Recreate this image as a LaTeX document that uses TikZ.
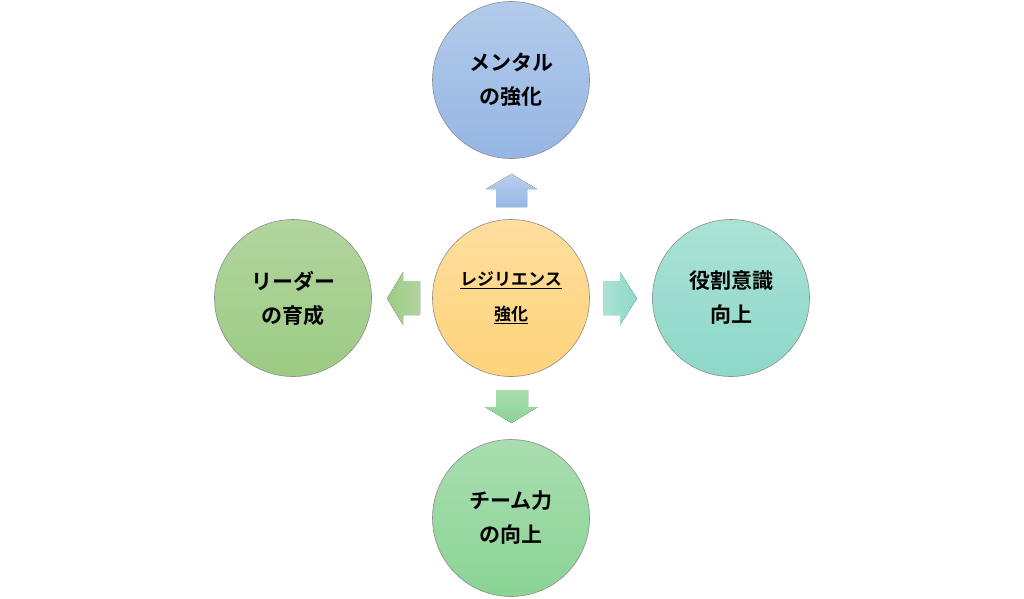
\documentclass[tikz,border=0pt]{standalone}
\usepackage{fontspec}
\newfontfamily\jp{Noto Sans CJK JP}[BoldFont={Noto Sans CJK JP Bold}]
\definecolor{bluetop}{HTML}{B3CBEB}
\definecolor{bluebot}{HTML}{95B6E3}
\definecolor{orgtop}{HTML}{FEDD9E}
\definecolor{orgbot}{HTML}{FED47A}
\definecolor{lgtop}{HTML}{B2D59E}
\definecolor{lgbot}{HTML}{9CCB84}
\definecolor{tltop}{HTML}{ABE2D6}
\definecolor{tlbot}{HTML}{8DD8C8}
\definecolor{grtop}{HTML}{AADDB0}
\definecolor{grbot}{HTML}{8AD495}
\definecolor{rim}{HTML}{8C8C8C}
\tikzset{
  bubble/.style={circle, minimum size=157pt, inner sep=0pt, draw=rim, line width=0.6pt,
    align=center, font=\jp\bfseries\fontsize{21}{34}\selectfont, text=black},
  blockarrow/.style={draw=none}
}
\begin{document}
\begin{tikzpicture}[x=1pt,y=-1pt]
\useasboundingbox (0,0) rectangle (1024,598);
% circles
\node[bubble, top color=bluetop, bottom color=bluebot] (top) at (511,80) {メンタル\\の強化};
\node[bubble, top color=orgtop, bottom color=orgbot, font=\jp\bfseries\fontsize{17}{35}\selectfont] (center) at (511,298) {\underline{レジリエンス}\\\underline{強化}};
\node[bubble, top color=lgtop, bottom color=lgbot] (left) at (293,298) {リーダー\\の育成};
\node[bubble, top color=tltop, bottom color=tlbot] (right) at (731,298) {役割意識\\向上};
\node[bubble, top color=grtop, bottom color=grbot] (bottom) at (511,518) {チーム力\\の向上};
% block arrows
\fill[top color=bluetop!90!white, bottom color=bluebot] (511.5,174) -- (537,189) -- (527,189) -- (527,207) -- (496,207) -- (496,189) -- (486,189) -- cycle;
\fill[left color=tltop, right color=tlbot] (603,281) -- (620,281) -- (620,272) -- (637,298.5) -- (620,325) -- (620,315) -- (603,315) -- cycle;
\fill[top color=grtop, bottom color=grbot] (496,390) -- (528,390) -- (528,407) -- (538,407) -- (511.5,423) -- (485,407) -- (496,407) -- cycle;
\fill[left color=lgbot, right color=lgtop] (420,281) -- (403,281) -- (403,272) -- (387,298.5) -- (403,325) -- (403,315) -- (420,315) -- cycle;
\end{tikzpicture}
\end{document}
